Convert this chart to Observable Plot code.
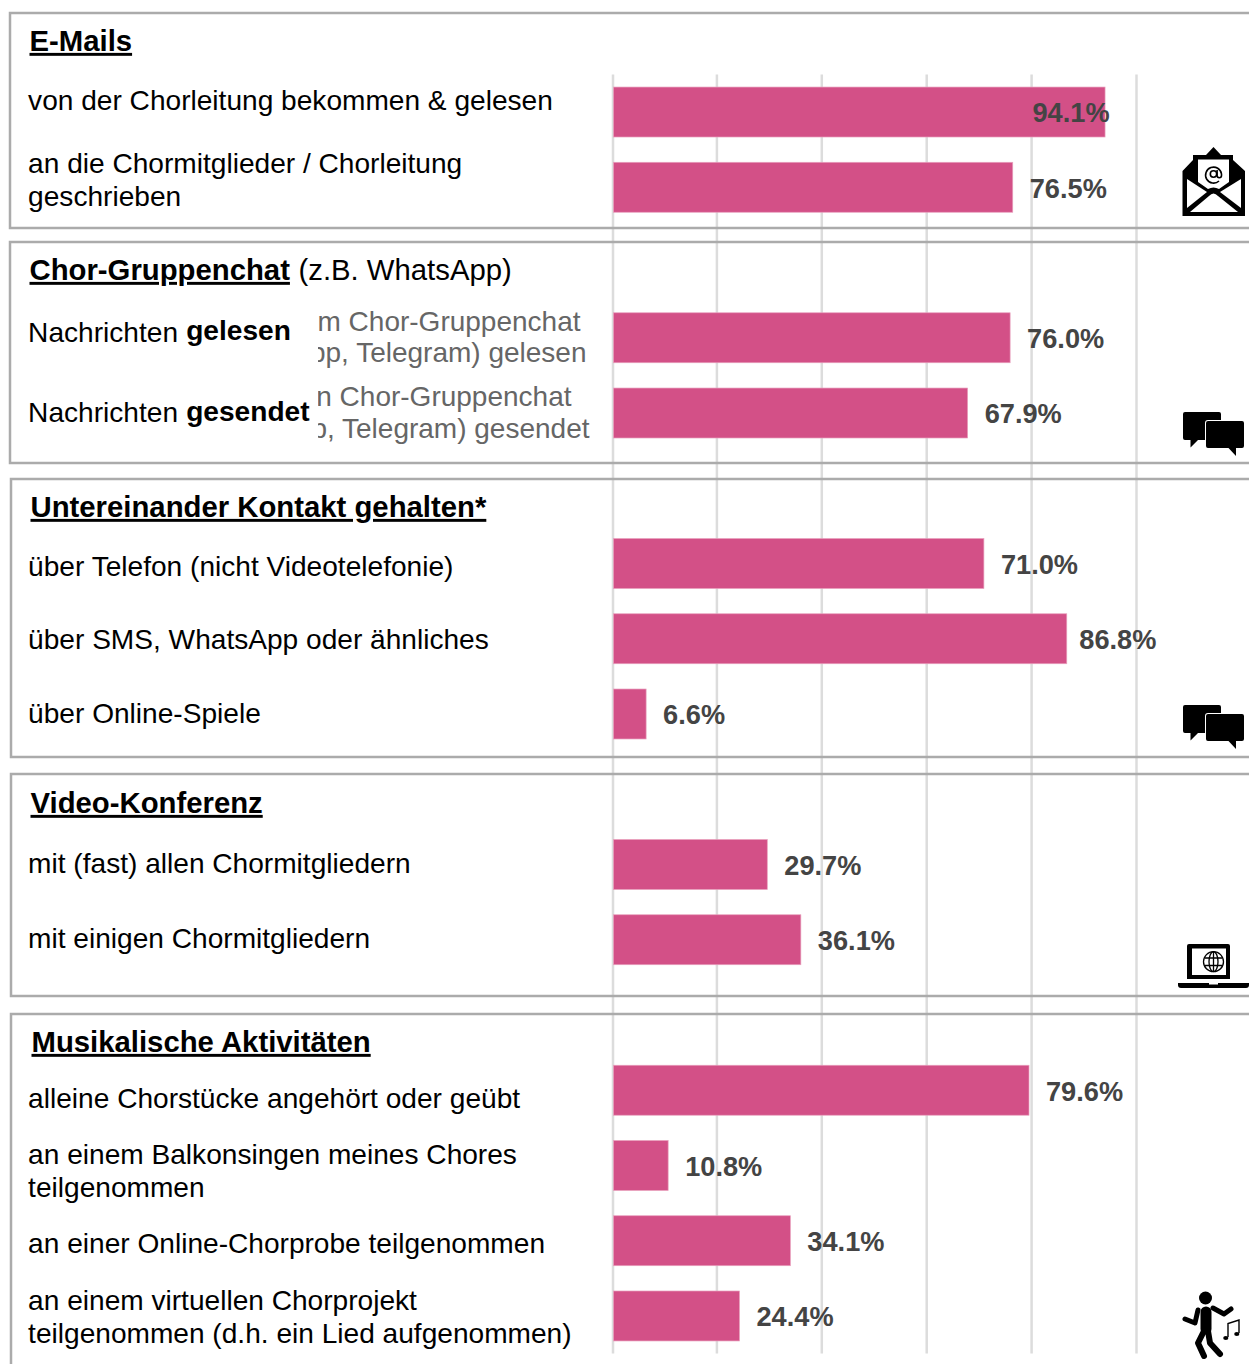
<!DOCTYPE html>
<html lang="de">
<head>
<meta charset="utf-8">
<title>Chor-Kontakt</title>
<script src="https://cdn.jsdelivr.net/npm/d3@7"></script>
<script src="https://cdn.jsdelivr.net/npm/@observablehq/plot@0.6"></script>
<style>
  html, body { margin: 0; padding: 0; background: #fff; }
  svg { display: block; }
  .ul text { text-decoration: underline; text-decoration-thickness: 3px; text-underline-offset: 3px; }
</style>
</head>
<body>
<div id="chart"></div>
<script>
// ---- data ----
const categories = [
  "von der Chorleitung bekommen & gelesen",
  "an die Chormitglieder / Chorleitung\ngeschrieben",
  "Nachrichten gelesen",
  "Nachrichten gesendet",
  "über Telefon (nicht Videotelefonie)",
  "über SMS, WhatsApp oder ähnliches",
  "über Online-Spiele",
  "mit (fast) allen Chormitgliedern",
  "mit einigen Chormitgliedern",
  "alleine Chorstücke angehört oder geübt",
  "an einem Balkonsingen meines Chores\nteilgenommen",
  "an einer Online-Chorprobe teilgenommen",
  "an einem virtuellen Chorprojekt\nteilgenommen (d.h. ein Lied aufgenommen)"
];
const values = [94.1, 76.5, 76.0, 67.9, 71.0, 86.8, 6.6, 29.7, 36.1, 79.6, 10.8, 34.1, 24.4];
const groupSizes = [2, 2, 3, 2, 4];
const sectionTitles = ["E-Mails", "Chor-Gruppenchat", "Untereinander Kontakt gehalten*", "Video-Konferenz", "Musikalische Aktivitäten"];
const gridTicks = [20, 40, 60, 80, 100];
const baseTick = [0];

// ---- derived ----
const rows = categories.map((category, i) => ({category, value: values[i], i}));
const yDomain = [];
{ let k = 0;
  groupSizes.forEach((n, g) => {
    if (g) yDomain.push("gap" + g);
    for (let j = 0; j < n; j++) yDomain.push(categories[k++]);
  });
}

// ---- layout (pixels, not data) ----
const W = 1249, H = 1364;
const ML = 611.5, MT = 74.4;
const labelShift = [-13, -8.5, -7, -2, 1, -0.75, -2, -3, -2.5, 6.75, 3.5, 1.5, -0.5];
const titleSpots = [[29, 41], [29, 270], [30, 507], [30, 803], [31, 1042]];
const panels = [[10, 13, 228], [10, 242, 463], [11, 479, 757], [11, 774, 996], [11, 1014, 1380]];

const FONT = "Liberation Sans";
const BASE = {fontFamily: FONT, lineAnchor: "middle", textAnchor: "start"};
const LABEL_SIZE = 28.1;

function panelMark() {
  const g = d3.create("svg:g").attr("fill", "none").attr("stroke", "#ababab").attr("stroke-width", 2.5);
  panels.forEach(([x, y0, y1]) => g.append("path").attr("d", `M${W + 5},${y0}H${x}V${y1}H${W + 5}`));
  return g.node();
}
function maskMark() {
  const g = d3.create("svg:g").attr("fill", "#fff");
  g.append("rect").attr("x", 290).attr("y", 305).attr("width", 28).attr("height", 140);
  return g.node();
}
function chat(g, oy) {
  const h = g.append("g").attr("transform", `translate(0,${oy})`);
  h.append("path").attr("d", "M1185,412H1219a2,2 0 0 1 2,2V438a2,2 0 0 1 -2,2H1198L1190.5,447.5V440H1185a2,2 0 0 1 -2,-2V414a2,2 0 0 1 2,-2Z").attr("fill", "#000");
  h.append("path").attr("d", "M1208,421H1242a2,2 0 0 1 2,2V446a2,2 0 0 1 -2,2H1236V456L1228.5,448H1208a2,2 0 0 1 -2,-2V423a2,2 0 0 1 2,-2Z").attr("fill", "#000").attr("stroke", "#fff").attr("stroke-width", 2).attr("paint-order", "stroke");
}
function iconsMark() {
  const g = d3.create("svg:g");
  // envelope
  g.append("path").attr("fill", "#000").attr("d", "M1213.5,147L1221,155H1233V160L1245,171V216H1182.5V171L1193,160V155H1206Z");
  g.append("path").attr("fill", "#fff").attr("d", "M1198,159.5H1229V182L1219,189Q1213.5,186 1208,189L1198,182Z");
  g.append("path").attr("fill", "#fff").attr("d", "M1187,179L1207,192L1187,208Z");
  g.append("path").attr("fill", "#fff").attr("d", "M1241,179L1220,192L1241,208Z");
  g.append("path").attr("fill", "#fff").attr("d", "M1190,212L1209,196Q1213.5,191 1218,196L1238,212Z");
  g.append("path").attr("fill", "none").attr("stroke", "#000").attr("stroke-width", 1.6).attr("d", "M1219,181A8,8 0 1 1 1221.5,174V175.5a2.2,2.2 0 0 1 -4.4,0V170");
  g.append("circle").attr("cx", 1213.5).attr("cy", 174).attr("r", 3.2).attr("fill", "none").attr("stroke", "#000").attr("stroke-width", 1.6);
  // chat bubbles
  chat(g, 0);
  chat(g, 293);
  // laptop
  g.append("path").attr("fill", "#000").attr("d", "M1189,944H1228a2,2 0 0 1 2,2V979H1187V946a2,2 0 0 1 2,-2Z");
  g.append("rect").attr("x", 1192).attr("y", 948.5).attr("width", 34).attr("height", 26.5).attr("fill", "#fff");
  g.append("path").attr("fill", "#000").attr("d", "M1178,983H1249V985a3,3 0 0 1 -3,3H1181a3,3 0 0 1 -3,-3Z");
  g.append("rect").attr("x", 1209).attr("y", 983).attr("width", 9).attr("height", 1.5).attr("fill", "#fff");
  const globe = g.append("g").attr("fill", "none").attr("stroke", "#000").attr("stroke-width", 1.3);
  globe.append("circle").attr("cx", 1213.5).attr("cy", 961.7).attr("r", 10);
  globe.append("ellipse").attr("cx", 1213.5).attr("cy", 961.7).attr("rx", 4.5).attr("ry", 10);
  globe.append("path").attr("d", "M1213.5,951.7V971.7M1204.5,958H1222.5M1204.5,965.5H1222.5");
  // dancer
  const d = g.append("g").attr("fill", "none").attr("stroke", "#000").attr("stroke-linecap", "round").attr("stroke-linejoin", "round");
  g.append("circle").attr("cx", 1205.5).attr("cy", 1298).attr("r", 6.5).attr("fill", "#000");
  d.append("path").attr("stroke-width", 5).attr("d", "M1198,1310L1195,1323L1185,1319");
  d.append("path").attr("stroke-width", 5).attr("d", "M1213,1308L1224,1314L1231,1309");
  d.append("path").attr("stroke-width", 11).attr("d", "M1206,1312L1206,1329");
  d.append("path").attr("stroke-width", 6).attr("d", "M1204,1331L1198,1343L1204,1356");
  d.append("path").attr("stroke-width", 6).attr("d", "M1208,1331L1210,1343L1220,1354");
  // note
  const n = g.append("g").attr("fill", "none").attr("stroke", "#000").attr("stroke-width", 1.4);
  n.append("path").attr("d", "M1228,1337L1228,1323.5L1239,1320L1239,1333");
  g.append("ellipse").attr("cx", 1225.8).attr("cy", 1338).attr("rx", 2.6).attr("ry", 1.9).attr("fill", "#000");
  g.append("ellipse").attr("cx", 1236.8).attr("cy", 1334).attr("rx", 2.6).attr("ry", 1.9).attr("fill", "#000");
  return g.node();
}

// row-label marks: each has its own vertical shift
const rowLabelMarks = rows.map(r => {
  const isSplit = r.category.startsWith("Nachrichten");
  return Plot.text([r], {
    ...BASE, y: "category", frameAnchor: "left",
    text: d => isSplit ? "Nachrichten" : d.category,
    dx: 27.6 - ML, dy: labelShift[r.i],
    fontSize: LABEL_SIZE, lineHeight: 1.175, fill: "#000"
  });
});
const boldMarks = rows.filter(r => r.category.startsWith("Nachrichten")).map(r =>
  Plot.text([r], {
    ...BASE, y: "category", frameAnchor: "left",
    text: d => d.category.split(" ")[1],
    dx: 185.7 - ML, dy: labelShift[r.i], fontSize: LABEL_SIZE, fontWeight: 700, fill: "#000"
  })
);
const titleMarks = sectionTitles.map((t, i) =>
  Plot.text([t], {
    ...BASE, text: d => d, frameAnchor: "top-left",
    dx: titleSpots[i][0] - ML, dy: titleSpots[i][1] - MT,
    fontSize: 29.3, fontWeight: 700, fill: "#000", className: "ul"
  })
);
const fragments = [
  ["m Chor-Gruppenchat", 580, 322], ["pp, Telegram) gelesen", 586, 353],
  ["n Chor-Gruppenchat", 571, 397], ["p, Telegram) gesendet", 589, 429]
];
const fragmentMarks = fragments.map(([t, x, y]) =>
  Plot.text([t], {
    ...BASE, text: d => d, frameAnchor: "top-left", textAnchor: "end",
    dx: x - ML, dy: y - MT, fontSize: 28, fill: "#666"
  })
);
const valueLabel = d => d.value.toFixed(1) + "%";
const valueStyle = {...BASE, y: "category", text: valueLabel, dy: 1.2, fontSize: 27.2, fontWeight: 700, fill: "#444"};
const regular = rows.filter(r => r.value !== 94.1 && r.value !== 86.8);

const chart = Plot.plot({
  width: W, height: H,
  marginLeft: ML, marginRight: W - 1136, marginTop: MT, marginBottom: H - 1353.6,
  style: {background: "#fff", fontFamily: FONT, overflow: "visible"},
  x: {domain: [0, 100], axis: null},
  y: {domain: yDomain, axis: null, paddingInner: 0.336, paddingOuter: 0.168, align: 0.5, round: false},
  marks: [
    Plot.ruleX(gridTicks, {stroke: "#dcdcdc", strokeWidth: 2.5}),
    Plot.ruleX(baseTick, {stroke: "#dcdcdc", strokeWidth: 2.5, dx: 1}),
    panelMark,
    Plot.barX(rows, {x: "value", y: "category", fill: "#d35087", stroke: "#e8a0bd", strokeWidth: 0.7, insetLeft: 2}),
    ...fragmentMarks,
    maskMark,
    ...rowLabelMarks,
    ...boldMarks,
    ...titleMarks,
    Plot.text(["(z.B. WhatsApp)"], {...BASE, text: d => d, frameAnchor: "top-left", dx: 298 - ML, dy: 270 - MT, fontSize: 29.3, fill: "#000"}),
    Plot.text(regular, {...valueStyle, x: "value", dx: 16.5}),
    Plot.text(rows.filter(r => r.value === 86.8), {...valueStyle, x: "value", dx: 12}),
    Plot.text(rows.filter(r => r.value === 94.1), {...valueStyle, x: "value", textAnchor: "end", dx: 4}),
    iconsMark
  ]
});
document.getElementById("chart").append(chart);
</script>
</body>
</html>
